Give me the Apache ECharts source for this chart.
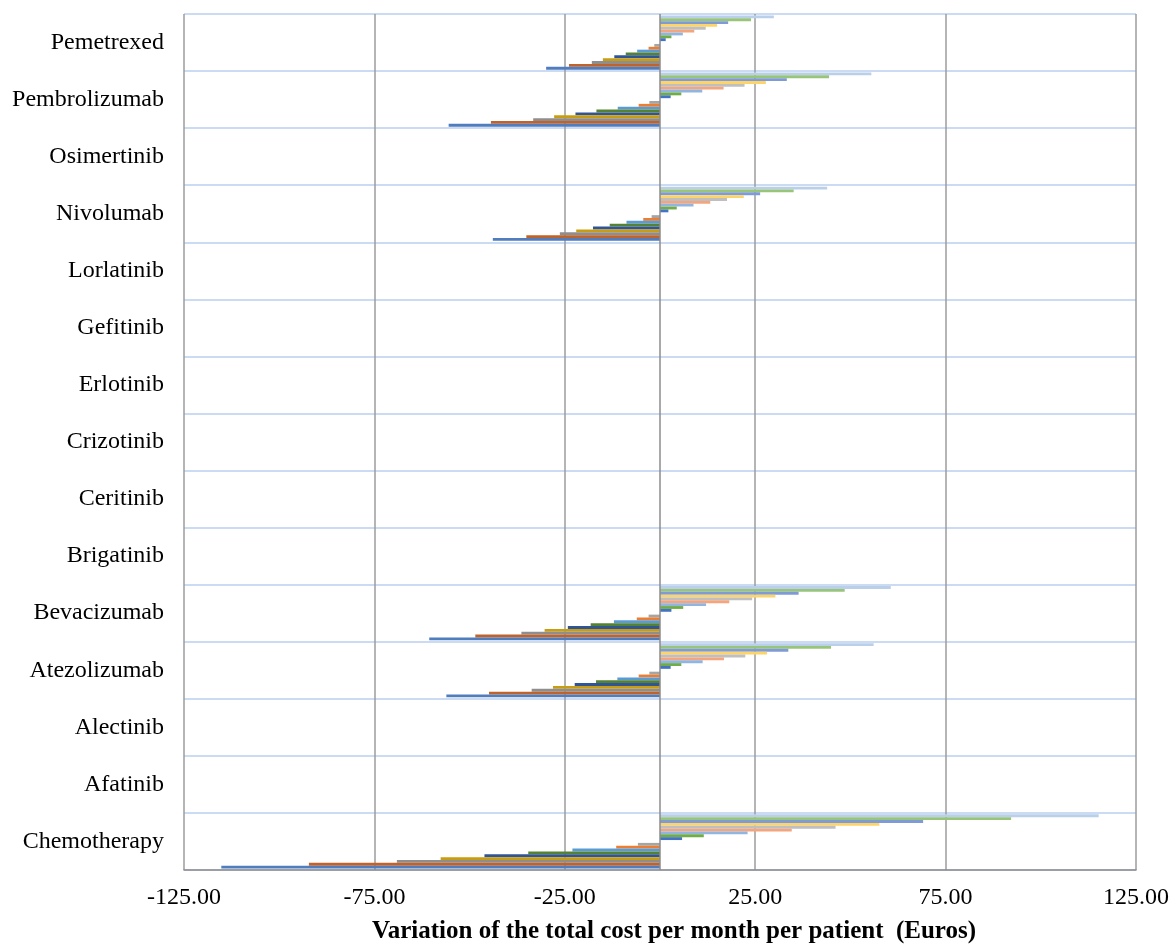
<!DOCTYPE html>
<html>
<head>
<meta charset="utf-8">
<script src="https://cdn.jsdelivr.net/npm/echarts@6/dist/echarts.min.js"></script>
<style>
html,body{margin:0;padding:0;background:#fff;}
#chart{width:1173px;height:946px;}
</style>
</head>
<body>
<div id="chart"></div>
<script>
// Categories, bottom to top
var categories = ['Chemotherapy','Afatinib','Alectinib','Atezolizumab','Bevacizumab','Brigatinib','Ceritinib','Crizotinib','Erlotinib','Gefitinib','Lorlatinib','Nivolumab','Osimertinib','Pembrolizumab','Pemetrexed'];

// Series names (variation scenarios), bottom bar to top bar in each category
var seriesNames = ['-100%','-80%','-60%','-50%','-40%','-30%','-20%','-10%','-5%','0%','+5%','+10%','+20%','+30%','+40%','+50%','+60%','+80%','+100%'];

// Values (Euros), one array per series, same order as categories
var vNeg100 = [-115.2,0,0,-56.1,-60.6,0,0,0,0,0,0,-43.9,0,-55.5,-29.9];
var vNeg80  = [-92.2,0,0,-44.9,-48.5,0,0,0,0,0,0,-35.1,0,-44.4,-23.9];
var vNeg60  = [-69.1,0,0,-33.7,-36.4,0,0,0,0,0,0,-26.3,0,-33.3,-17.9];
var vNeg50  = [-57.6,0,0,-28.1,-30.3,0,0,0,0,0,0,-22.0,0,-27.8,-15.0];
var vNeg40  = [-46.1,0,0,-22.4,-24.2,0,0,0,0,0,0,-17.6,0,-22.2,-12.0];
var vNeg30  = [-34.6,0,0,-16.8,-18.2,0,0,0,0,0,0,-13.2,0,-16.7,-9.0];
var vNeg20  = [-23.0,0,0,-11.2,-12.1,0,0,0,0,0,0,-8.8,0,-11.1,-6.0];
var vNeg10  = [-11.5,0,0,-5.6,-6.1,0,0,0,0,0,0,-4.4,0,-5.6,-3.0];
var vNeg5   = [-5.8,0,0,-2.8,-3.0,0,0,0,0,0,0,-2.2,0,-2.8,-1.5];
var vZero   = [0,0,0,0,0,0,0,0,0,0,0,0,0,0,0];
var vPos5   = [5.8,0,0,2.8,3.0,0,0,0,0,0,0,2.2,0,2.8,1.5];
var vPos10  = [11.5,0,0,5.6,6.1,0,0,0,0,0,0,4.4,0,5.6,3.0];
var vPos20  = [23.0,0,0,11.2,12.1,0,0,0,0,0,0,8.8,0,11.1,6.0];
var vPos30  = [34.6,0,0,16.8,18.2,0,0,0,0,0,0,13.2,0,16.7,9.0];
var vPos40  = [46.1,0,0,22.4,24.2,0,0,0,0,0,0,17.6,0,22.2,12.0];
var vPos50  = [57.6,0,0,28.1,30.3,0,0,0,0,0,0,22.0,0,27.8,15.0];
var vPos60  = [69.1,0,0,33.7,36.4,0,0,0,0,0,0,26.3,0,33.3,17.9];
var vPos80  = [92.2,0,0,44.9,48.5,0,0,0,0,0,0,35.1,0,44.4,23.9];
var vPos100 = [115.2,0,0,56.1,60.6,0,0,0,0,0,0,43.9,0,55.5,29.9];

var seriesValues = [vNeg100,vNeg80,vNeg60,vNeg50,vNeg40,vNeg30,vNeg20,vNeg10,vNeg5,vZero,vPos5,vPos10,vPos20,vPos30,vPos40,vPos50,vPos60,vPos80,vPos100];

var colors = ['#4F7DBE','#C0622A','#8E8E8E','#C99D12','#2F5597','#548235','#5B9BD5','#ED7D31','#A5A5A5','#FFC000',
              '#4472C4','#70AD47','#8FB5E0','#F4A57E','#BFBFBF','#FFD466','#7F9BD6','#98C57A','#BACFEA'];

// x axis tick labels
var xMin = -125, xMax = 125, xStep = 50;

var fontFam = '"Liberation Serif", "Times New Roman", serif';

// ECharts lays horizontal bar series out top-down, so feed them in reverse
var series = [];
for (var i = seriesNames.length - 1; i >= 0; i--) {
  var s = {
    name: seriesNames[i],
    type: 'bar',
    data: seriesValues[i],
    barGap: '0%',
    barCategoryGap: '5%',
    itemStyle: { color: colors[i] },
    silent: true
  };
  if (i === 0) {
    s.markLine = {
      silent: true,
      symbol: 'none',
      label: { show: false },
      lineStyle: { color: '#8C8C8C', width: 1.5, type: 'solid' },
      data: [{ xAxis: 0 }]
    };
  }
  series.push(s);
}

var chart = echarts.init(document.getElementById('chart'), null, {renderer: 'canvas'});
chart.setOption({
  animation: false,
  backgroundColor: '#ffffff',
  grid: { left: 184, right: 37, top: 14, bottom: 76, containLabel: false, outerBoundsMode: 'none' },
  xAxis: {
    type: 'value',
    min: xMin, max: xMax, interval: xStep,
    axisLine: { show: true, onZero: false, lineStyle: { color: '#8C8C8C', width: 1.5 } },
    axisTick: { show: false },
    splitLine: { show: true, lineStyle: { color: '#9C9C9C', width: 1.5 } },
    axisLabel: {
      color: '#000', fontFamily: fontFam, fontSize: 24, margin: 16,
      formatter: function(v){ return v.toFixed(2); }
    },
    name: 'Variation of the total cost per month per patient  (Euros)',
    nameLocation: 'middle',
    nameGap: 49,
    nameTextStyle: { color: '#000', fontFamily: fontFam, fontSize: 25, fontWeight: 'bold', padding: [0,0,0,28] }
  },
  yAxis: {
    type: 'category',
    data: categories,
    axisLine: { show: false },
    axisTick: { show: false },
    splitLine: { show: true, lineStyle: { color: '#B9CFEF', width: 1.5 } },
    axisLabel: { color: '#000', fontFamily: fontFam, fontSize: 24, margin: 20, padding: [6,0,0,0] }
  },
  series: series
});
</script>
</body>
</html>
